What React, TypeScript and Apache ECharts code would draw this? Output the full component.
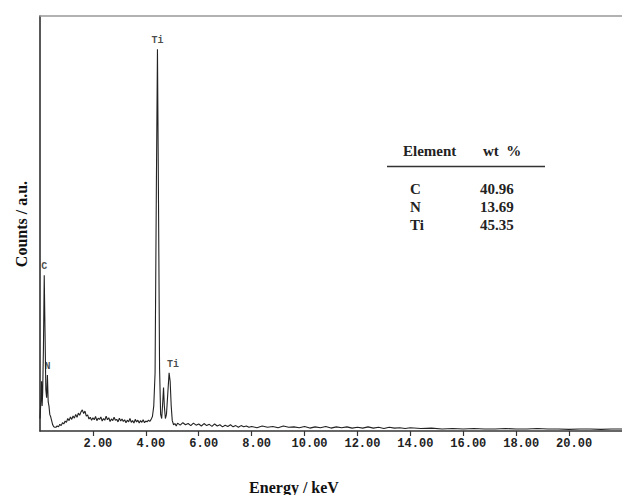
import React, { useEffect, useRef } from "react";
import * as echarts from "echarts";

// Energy (keV) and counts (a.u.)
const energies = [
  0.0, 0.04, 0.06, 0.08, 0.1, 0.13, 0.16, 0.19, 0.22, 0.25, 0.28, 0.31, 0.34, 0.37, 0.4, 0.44, 0.48, 0.52, 0.56,
  0.6, 0.65, 0.7, 0.75, 0.8, 0.85, 0.9, 0.95, 1.0, 1.05, 1.1, 1.15, 1.2, 1.25, 1.3, 1.35, 1.4, 1.45, 1.5, 1.55,
  1.6, 1.65, 1.7, 1.75, 1.8, 1.85, 1.9, 1.95, 2.0, 2.05, 2.1, 2.15, 2.2, 2.25, 2.3, 2.35, 2.4, 2.45, 2.5, 2.55,
  2.6, 2.65, 2.7, 2.75, 2.8, 2.85, 2.9, 2.95, 3.0, 3.05, 3.1, 3.15, 3.2, 3.25, 3.3, 3.35, 3.4, 3.45, 3.5, 3.55,
  3.6, 3.65, 3.7, 3.75, 3.8, 3.85, 3.9, 3.95, 4.0, 4.05, 4.1, 4.15, 4.2, 4.25, 4.3, 4.35, 4.4, 4.44, 4.48, 4.52,
  4.56, 4.6, 4.64, 4.67, 4.7, 4.74, 4.78, 4.83, 4.88, 4.92, 4.96, 5.0, 5.05, 5.1, 5.15,
  5.2, 5.3, 5.4, 5.5, 5.6, 5.7, 5.8, 5.9, 6.0, 6.1, 6.2, 6.3, 6.4, 6.5, 6.6, 6.7, 6.8, 6.9, 7.0, 7.1, 7.2, 7.3,
  7.4, 7.5, 7.6, 7.7, 7.8, 7.9, 8.0, 8.2, 8.4, 8.6, 8.8, 9.0, 9.2, 9.4, 9.6, 9.8, 10.0, 10.2, 10.4, 10.6, 10.8,
  11.0, 11.2, 11.4, 11.6, 11.8, 12.0, 12.2, 12.4, 12.6, 12.8, 13.0, 13.2, 13.4, 13.6, 13.8, 14.0, 14.4, 14.8,
  15.2, 15.6, 16.0, 16.4, 16.8, 17.2, 17.6, 18.0, 18.4, 18.8, 19.2, 19.6, 20.0, 20.4, 20.8, 21.2, 21.6, 22.0,
];
const counts = [
  3, 8, 12, 6, 9, 20, 37.5, 24, 10, 8, 13.5, 7, 6, 4, 3.5, 2.5, 1.5, 1.0, 0.9,
  0.9, 1.2, 1.0, 1.6, 1.3, 2.0, 1.7, 2.4, 2.1, 3.0, 2.5, 3.4, 2.8, 3.6, 3.1, 4.0, 3.3, 4.3, 3.8, 4.6,
  5.1, 4.2, 4.8, 3.6, 3.9, 2.9, 3.3, 2.6, 3.2, 2.7, 3.5, 2.5, 3.1, 2.8, 3.4, 2.4, 3.0, 2.6, 3.6, 2.7,
  3.2, 2.3, 2.9, 2.5, 3.3, 2.6, 2.8, 2.2, 3.1, 2.4, 2.9, 2.3, 2.7, 2.0, 2.6, 2.2, 3.0, 2.1, 2.5, 1.9,
  2.8, 2.2, 2.6, 1.9, 2.5, 2.1, 2.7, 2.0, 2.4, 2.2, 2.6, 2.3, 2.8, 3.5, 6, 14, 60, 92, 55, 15,
  4, 3, 7, 10.5, 6, 3, 4, 9, 14, 12, 6, 2.5, 1.5, 1.8, 1.2,
  1.9, 1.4, 2.0, 1.5, 1.8, 1.3, 1.9, 1.4, 1.7, 1.2, 1.8, 1.3, 1.6, 1.1, 1.7, 1.2, 1.5, 1.0, 1.4, 1.1, 1.5, 1.0,
  1.3, 0.9, 1.3, 1.0, 1.2, 0.9, 1.1, 0.8, 1.2, 0.9, 1.1, 0.8, 1.2, 0.9, 1.0, 0.8, 1.1, 0.7, 1.0, 0.8, 1.1,
  0.7, 1.0, 0.8, 1.0, 0.7, 0.9, 0.7, 1.0, 0.7, 0.9, 0.6, 0.9, 0.7, 0.8, 0.6, 0.8, 0.6, 0.7,
  0.5, 0.6, 0.5, 0.6, 0.5, 0.5, 0.6, 0.5, 0.5, 0.6, 0.5, 0.5, 0.4, 0.5, 0.5, 0.4, 0.5, 0.5,
];

// Peak labels: element and energy of the labelled point
const peakNames = ["Ti", "C", "N", "Ti"];
const peakEnergies = [4.44, 0.16, 0.28, 4.88];

// Composition table
const tableElements = ["C", "N", "Ti"];
const tableWt = ["40.96", "13.69", "45.35"];

const xTicks = ["2.00", "4.00", "6.00", "8.00", "10.00", "12.00", "14.00", "16.00", "18.00", "20.00"];

export default function App() {
  const ref = useRef<HTMLDivElement>(null);

  useEffect(() => {
    if (!ref.current) return;
    const chart = echarts.init(ref.current, null, { renderer: "svg" });

    const data = energies.map((e, i) => [e, counts[i]]);
    const peakData = peakEnergies.map((e, k) => ({
      value: [e, counts[energies.indexOf(e)]],
      itemStyle: { color: "rgba(0,0,0,0)" },
      label: {
        show: true,
        formatter: peakNames[k],
        offset: k === 3 ? [4, 0] : [0, 0],
        color: "#1a1a1a",
      },
    }));

    const font = "bold 15px 'Liberation Serif'";
    const tableGraphics: any[] = [
      { type: "text", left: 403, top: 143, style: { text: "Element", font, fill: "#222" } },
      { type: "text", left: 483, top: 143, style: { text: "wt  %", font, fill: "#222" } },
      { type: "line", shape: { x1: 387, y1: 166.5, x2: 545, y2: 166.5 }, style: { stroke: "#333", lineWidth: 1.5 } },
    ];
    tableElements.forEach((el, i) => {
      tableGraphics.push({
        type: "text", left: 410, top: 181 + i * 18,
        style: { text: el, font, fill: "#222" },
      });
      tableGraphics.push({
        type: "text", left: 480, top: 181 + i * 18,
        style: { text: tableWt[i], font, fill: "#222" },
      });
    });

    chart.setOption({
      animation: false,
      backgroundColor: "#fff",
      grid: { left: 40, right: 0, top: 16, bottom: 64 },
      xAxis: [
        {
          type: "value",
          min: 0,
          max: 22,
          interval: 2,
          axisLine: { show: true, onZero: false, lineStyle: { color: "#333", width: 1.5 } },
          axisTick: { show: true, length: 5, lineStyle: { color: "#333", width: 1.2 } },
          splitLine: { show: false },
          axisLabel: {
            showMinLabel: false,
            showMaxLabel: false,
            margin: 7,
            padding: [0, 0, 0, 10],
            fontFamily: "Liberation Mono",
            fontWeight: "bold",
            fontSize: 12,
            color: "#222",
            formatter: (v: number) => xTicks.find((t) => parseFloat(t) === v) || "",
          },
        },
        {
          type: "value",
          position: "top",
          min: 0,
          max: 22,
          axisLine: { show: true, onZero: false, lineStyle: { color: "#999", width: 1.5 } },
          axisTick: { show: false },
          axisLabel: { show: false },
          splitLine: { show: false },
        },
      ],
      yAxis: {
        type: "value",
        min: 0,
        max: 100,
        axisLine: { show: true, lineStyle: { color: "#222", width: 1.5 } },
        axisTick: { show: false },
        axisLabel: { show: false },
        splitLine: { show: false },
      },
      series: [
        {
          type: "line",
          data,
          showSymbol: false,
          symbol: "none",
          lineStyle: { color: "#222", width: 1.1 },
        },
        {
          type: "scatter",
          data: peakData,
          symbolSize: 1,
          label: {
            show: true,
            position: "top",
            distance: 3,
            fontFamily: "Liberation Mono",
            fontWeight: "bold",
            fontSize: 10,
            color: "#1a1a1a",
          },
        },
      ],
      graphic: [
        {
          type: "text",
          x: 21,
          y: 224,
          rotation: Math.PI / 2,
          style: {
            text: "Counts / a.u.",
            font: "bold 16px 'Liberation Serif'",
            fill: "#111",
            align: "center",
            verticalAlign: "middle",
          },
        },
        {
          type: "text",
          x: 294,
          y: 479,
          style: {
            text: "Energy / keV",
            font: "bold 16px 'Liberation Serif'",
            fill: "#111",
            align: "center",
            verticalAlign: "top",
          },
        },
        ...tableGraphics,
      ],
    });

    return () => chart.dispose();
  }, []);

  return <div ref={ref} style={{ position: "absolute", left: 0, top: 0, width: 622, height: 495 }} />;
}
